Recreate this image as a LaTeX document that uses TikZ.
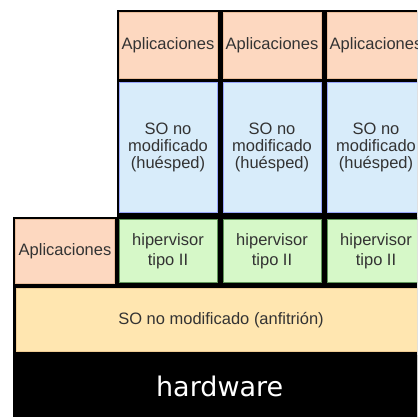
\documentclass[tikz,border=0pt]{standalone}
\usepackage{fontspec}
\setmainfont{Liberation Sans}
\newfontfamily\hwfont{DejaVu Sans}
\definecolor{appc}{HTML}{FDD8C0}
\definecolor{soc}{HTML}{D8ECFA}
\definecolor{hypc}{HTML}{D6F8C8}
\definecolor{hostc}{HTML}{FFE6B0}
\definecolor{txt}{HTML}{333333}
\begin{document}
\begin{tikzpicture}[x=1pt,y=-1pt,
  box/.style={inner sep=0pt, outer sep=0pt, text=txt, align=center, line width=0.8pt, anchor=north west,
    font=\fontsize{16.5}{17}\selectfont},
  appbox/.style={box, fill=appc, draw=appc!70!brown},
  sobox/.style={box, fill=soc, draw=soc!70!blue},
  hypbox/.style={box, fill=hypc, draw=hypc!75!green!60!black, font=\fontsize{16.5}{20}\selectfont},
  hostbox/.style={box, fill=hostc, draw=hostc!75!brown}]
\useasboundingbox (0,0) rectangle (417,417);
\clip (0,0) rectangle (417,417);
\fill[black] (117,10) rectangle (430,220);
\fill[black] (12.5,217) rectangle (430,417);
\foreach \i/\x in {1/119,2/223,3/327} {
  \node[appbox, minimum width=98pt, minimum height=66pt] (app\i) at (\x,12.5) {Aplicaciones};
  \node[sobox, minimum width=98pt, minimum height=130pt] (so\i) at (\x,82.5) {SO no\\modificado\\(huésped)};
  \node[hypbox, minimum width=98pt, minimum height=63pt] (hyp\i) at (\x,219.5) {hipervisor\\tipo II};
}
\node[appbox, minimum width=99pt, minimum height=64pt] (app0) at (15.5,219.5) {Aplicaciones};
\node[hostbox, minimum width=410pt, minimum height=63pt] (host) at (16,288.5) {SO no modificado (anfitrión)};
\node[inner sep=0pt, fill=black, text=white, minimum width=414pt, minimum height=62pt, anchor=north west,
  font=\hwfont\fontsize{27}{30}\selectfont] (hw) at (12.5,355) {hardware};
\end{tikzpicture}
\end{document}
